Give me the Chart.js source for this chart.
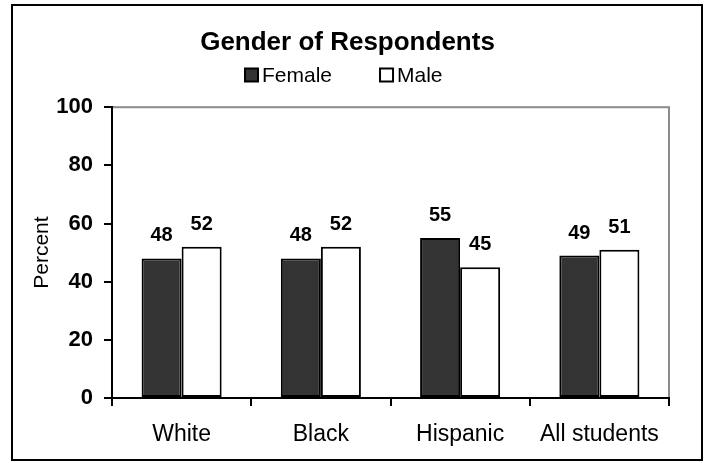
<!DOCTYPE html>
<html>
<head>
<meta charset="utf-8">
<script src="https://cdn.jsdelivr.net/npm/chart.js@4/dist/chart.umd.min.js"></script>
<style>
  html, body { margin: 0; padding: 0; background: #fff; }
  #c { display: block; }
</style>
</head>
<body>
<canvas id="c" width="710" height="463"></canvas>
<script>
const categories = ["White", "Black", "Hispanic", "All students"];
const femaleValues = [48, 48, 55, 49];
const maleValues = [52, 52, 45, 51];
const seriesNames = ["Female", "Male"];
const yTicks = [0, 20, 40, 60, 80, 100];
const chartTitle = "Gender of Respondents";
const yAxisTitle = "Percent";

const FONT = "'Liberation Sans', Arial, Helvetica, sans-serif";

const framePlugin = {
  id: 'frame',
  beforeDraw(chart) {
    const ctx = chart.ctx;
    const a = chart.chartArea;
    ctx.save();
    ctx.fillStyle = '#fff';
    ctx.fillRect(0, 0, chart.width, chart.height);
    ctx.strokeStyle = '#000';
    ctx.lineWidth = 2;
    ctx.strokeRect(12, 5, 690, 455);
    ctx.strokeStyle = '#8c8c8c';
    ctx.lineWidth = 2;
    ctx.strokeRect(a.left, a.top, a.right - a.left, a.bottom - a.top);
    ctx.restore();
  }
};

const valueLabelPlugin = {
  id: 'valueLabels',
  afterDatasetsDraw(chart) {
    const ctx = chart.ctx;
    ctx.save();
    ctx.font = "bold 20px " + FONT;
    ctx.fillStyle = '#000';
    ctx.textAlign = 'center';
    ctx.textBaseline = 'alphabetic';
    chart.data.datasets.forEach((ds, di) => {
      const meta = chart.getDatasetMeta(di);
      meta.data.forEach((el, i) => {
        ctx.fillText(String(ds.data[i]), el.x, el.y - 17);
      });
    });
    ctx.restore();
  }
};

const legendPlugin = {
  id: 'customLegend',
  afterDraw(chart) {
    const ctx = chart.ctx;
    ctx.save();
    ctx.font = "21px " + FONT;
    ctx.textBaseline = 'middle';
    ctx.textAlign = 'left';
    const cy = 75;
    const box = 13;
    let x = 245;
    chart.data.datasets.forEach((ds, di) => {
      ctx.fillStyle = ds.backgroundColor;
      ctx.fillRect(x, cy - box / 2, box, box);
      ctx.strokeStyle = '#000';
      ctx.lineWidth = 2;
      ctx.strokeRect(x, cy - box / 2, box, box);
      ctx.fillStyle = '#000';
      ctx.fillText(ds.label, x + box + 4, cy + 1);
      x += box + 4 + ctx.measureText(ds.label).width + 48;
    });
    ctx.restore();
  }
};

new Chart(document.getElementById('c'), {
  type: 'bar',
  data: {
    labels: categories,
    datasets: [
      {
        label: seriesNames[0],
        data: femaleValues,
        backgroundColor: '#333333',
        borderColor: '#000000',
        borderWidth: 2,
        borderSkipped: false,
        categoryPercentage: 0.575,
        barPercentage: 1.0
      },
      {
        label: seriesNames[1],
        data: maleValues,
        backgroundColor: '#ffffff',
        borderColor: '#000000',
        borderWidth: 2,
        borderSkipped: false,
        categoryPercentage: 0.575,
        barPercentage: 1.0
      }
    ]
  },
  options: {
    responsive: false,
    animation: false,
    devicePixelRatio: 1,
    layout: { padding: { top: 5, left: 26, right: 41, bottom: 0 } },
    plugins: {
      legend: { display: false },
      tooltip: { enabled: false },
      title: {
        display: true,
        text: chartTitle,
        color: '#000',
        font: { family: FONT, size: 26, weight: 'bold' },
        padding: { top: 22, bottom: 49 }
      }
    },
    scales: {
      x: {
        offset: true,
        grid: { offset: true, drawOnChartArea: false, drawTicks: true, tickLength: 8, color: '#000', lineWidth: 2 },
        border: { display: true, color: '#000', width: 2 },
        ticks: { color: '#000', font: { family: FONT, size: 23 }, padding: 15, maxRotation: 0, autoSkip: false },
        afterFit(s) { s.height = 65; }
      },
      y: {
        min: 0,
        max: 100,
        afterBuildTicks(s) { s.ticks = yTicks.map(v => ({ value: v })); },
        grid: { drawOnChartArea: false, drawTicks: true, tickLength: 8, color: '#000', lineWidth: 2 },
        border: { display: true, color: '#000', width: 2 },
        ticks: { color: '#000', font: { family: FONT, size: 22, weight: 'bold' }, padding: 11 },
        title: { display: true, text: yAxisTitle, color: '#000', font: { family: FONT, size: 21 }, padding: { top: 4, bottom: 4 } },
        afterFit(s) { s.width = 86; }
      }
    }
  },
  plugins: [framePlugin, valueLabelPlugin, legendPlugin]
});
</script>
</body>
</html>
